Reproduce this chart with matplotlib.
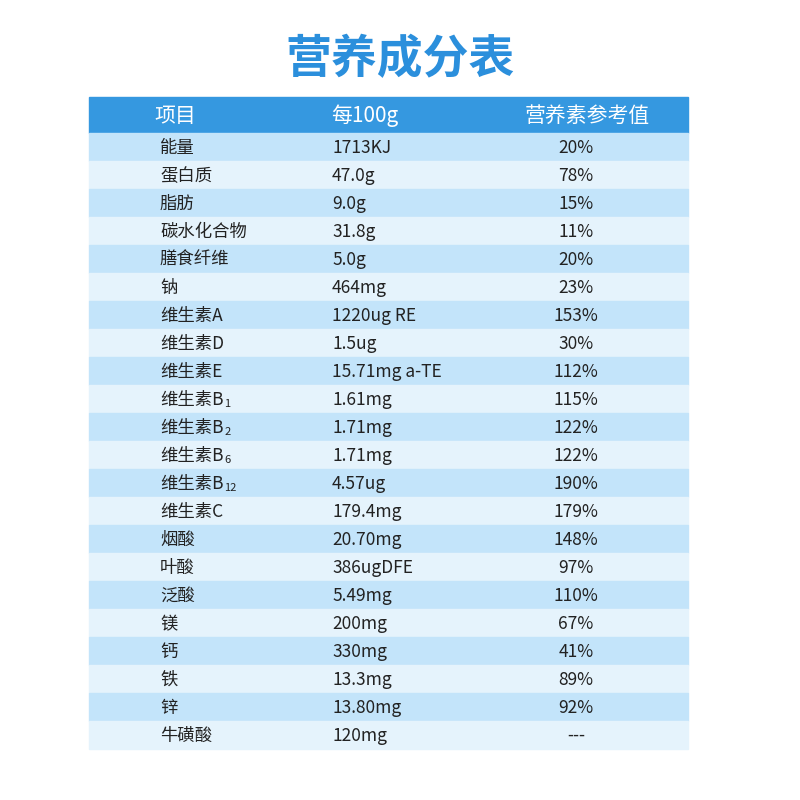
import matplotlib.pyplot as plt
from matplotlib.patches import Rectangle
from matplotlib.textpath import TextPath
from matplotlib.font_manager import FontProperties

plt.rcParams['font.family'] = ['Noto Sans CJK SC', 'DejaVu Sans']

title = '营养素成分表'[0:2] + '成分表'
title = '营养成分表'
headers = ['项目', '每100g', '营养素参考值']
names = ['能量', '蛋白质', '脂肪', '碳水化合物', '膳食纤维', '钠', '维生素A', '维生素D',
         '维生素E', '维生素B', '维生素B', '维生素B', '维生素B', '维生素C', '烟酸', '叶酸',
         '泛酸', '镁', '钙', '铁', '锌', '牛磺酸']
subs = ['', '', '', '', '', '', '', '', '', '1', '2', '6', '12', '', '', '', '', '', '', '', '', '']
amounts = ['1713KJ', '47.0g', '9.0g', '31.8g', '5.0g', '464mg', '1220ug RE', '1.5ug',
           '15.71mg a-TE', '1.61mg', '1.71mg', '1.71mg', '4.57ug', '179.4mg', '20.70mg',
           '386ugDFE', '5.49mg', '200mg', '330mg', '13.3mg', '13.80mg', '120mg']
nrv = ['20%', '78%', '15%', '11%', '20%', '23%', '153%', '30%', '112%', '115%', '122%',
       '122%', '190%', '179%', '148%', '97%', '110%', '67%', '41%', '89%', '92%', '---']

fig = plt.figure(figsize=(8, 8), dpi=100)
ax = fig.add_axes([0, 0, 1, 1])
ax.set_xlim(0, 800)
ax.set_ylim(800, 0)
ax.axis('off')

x0, x1 = 89, 688
ax.text(400, 60, title, ha='center', va='center', fontsize=33, color='#2b8fdc', fontweight='bold')

ax.add_patch(Rectangle((x0, 97), x1 - x0, 36, color='#3598e0'))
for label, cx in zip(headers, [175, 365, 587]):
    ax.text(cx, 116, label, ha='center', va='center', fontsize=15, color='white')

top, bottom = 133, 749
rh = (bottom - top) / len(names)
fp = FontProperties(family='Noto Sans CJK SC', size=12.5)
for i, (n, s, a, p) in enumerate(zip(names, subs, amounts, nrv)):
    y = top + i * rh
    ax.add_patch(Rectangle((x0, y), x1 - x0, rh, color='#c3e4fa' if i % 2 == 0 else '#e5f3fc'))
    cy = y + rh / 2 + 1
    ax.text(160, cy, n, ha='left', va='center', fontsize=12.5, color='#222222')
    if s:
        w = TextPath((0, 0), n, prop=fp).get_extents().width * 100 / 72
        ax.text(160 + w + 2, cy + 4, s, ha='left', va='center', fontsize=8, color='#222222')
    ax.text(332, cy, a, ha='left', va='center', fontsize=12.5, color='#222222')
    ax.text(576, cy, p, ha='center', va='center', fontsize=12.5, color='#222222')

fig.savefig('out.png', dpi=100, facecolor='white')
